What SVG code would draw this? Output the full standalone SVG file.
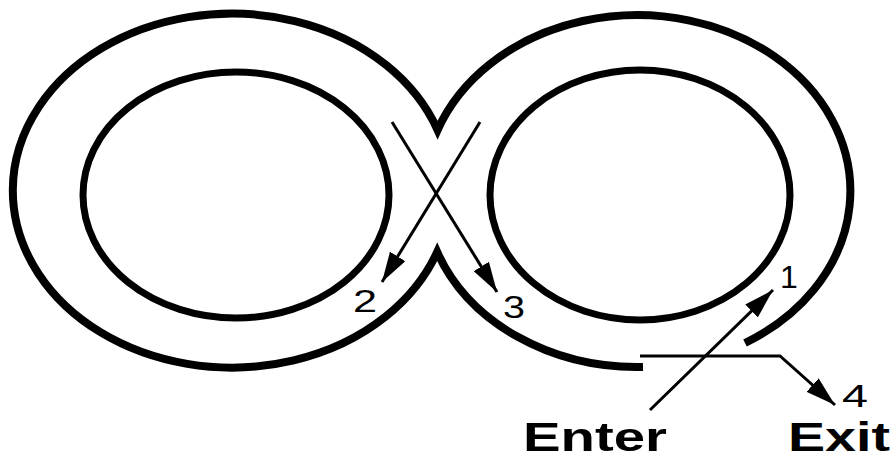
<svg xmlns="http://www.w3.org/2000/svg" width="895" height="461" viewBox="0 0 895 461">
<defs>
<style>
.track{fill:none;stroke:#000;stroke-width:8;stroke-linejoin:miter;stroke-miterlimit:10}
.inner{fill:none;stroke:#000;stroke-width:7}
.arr{fill:none;stroke:#000;stroke-width:3;marker-end:url(#head)}
.num{font-family:"Liberation Sans",Arial,sans-serif;font-size:32px;fill:#000}
.big{font-family:"Liberation Sans",Arial,sans-serif;font-size:41px;font-weight:bold;fill:#000}
</style>
<marker id="head" markerUnits="userSpaceOnUse" markerWidth="30" markerHeight="18" refX="30" refY="9" orient="auto">
<path d="M0,0 L30,9 L0,18 z" fill="#000"/>
</marker>
</defs>
<rect width="895" height="461" fill="#fff"/>
<g id="track">
<path class="track" d="M643,367 A213,176 0 0 1 437.2,252 A219,177 0 1 1 437.6,130 A213,176 0 1 1 745,343"/>
<ellipse id="left-inner" class="inner" cx="236" cy="195" rx="153" ry="123"/>
<ellipse id="right-inner" class="inner" cx="640" cy="195" rx="150" ry="125"/>
</g>
<g id="connectors">
<line class="arr" x1="480" y1="122" x2="382" y2="282"/>
<line class="arr" x1="392" y1="122" x2="497" y2="292"/>
<line class="arr" x1="650" y1="410" x2="773" y2="290"/>
<polyline class="arr" points="640,356 780,356 835,405"/>
</g>
<g id="labels">
<text class="num" x="353" y="312" textLength="24" lengthAdjust="spacingAndGlyphs">2</text>
<text class="num" x="503" y="318" textLength="22" lengthAdjust="spacingAndGlyphs">3</text>
<text class="num" x="780" y="288">1</text>
<text class="num" x="842" y="407" font-size="26" textLength="26" lengthAdjust="spacingAndGlyphs">4</text>
<text class="big" x="523" y="451" textLength="144" lengthAdjust="spacingAndGlyphs">Enter</text>
<text class="big" x="788" y="451" textLength="102" lengthAdjust="spacingAndGlyphs">Exit</text>
</g>
</svg>
